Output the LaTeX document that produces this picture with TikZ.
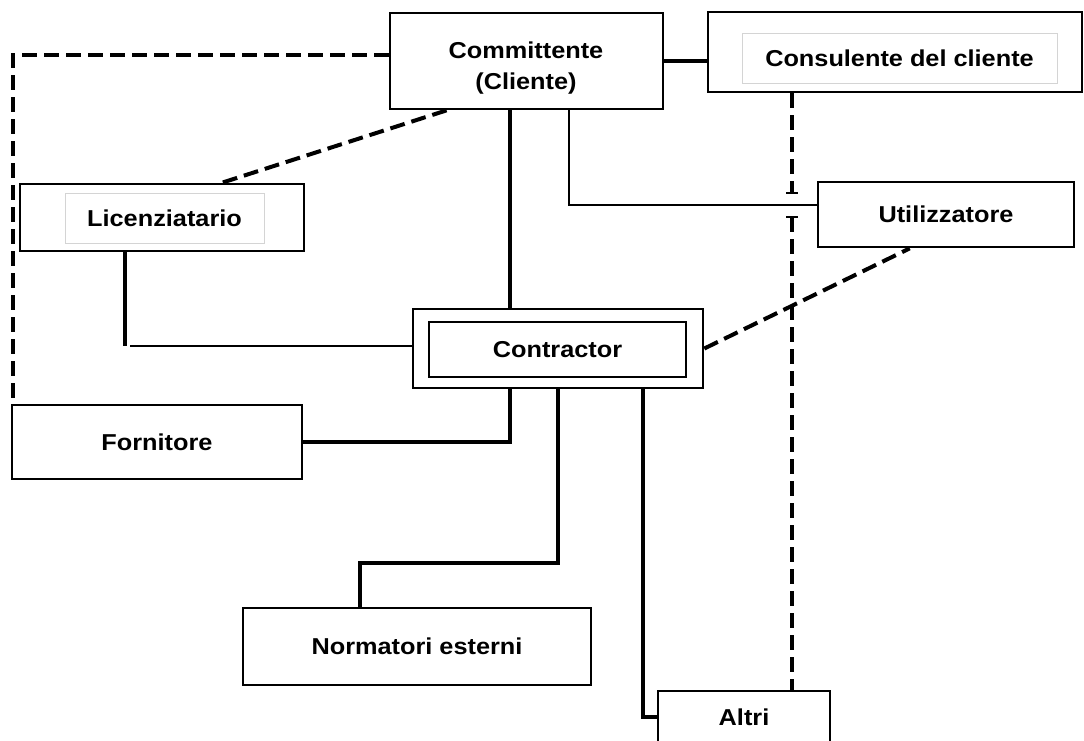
\documentclass[tikz,border=0pt]{standalone}
\usepackage{fontspec}
\setmainfont{Liberation Sans}[FakeStretch=1.1]
\usetikzlibrary{calc}
\begin{document}
\begin{tikzpicture}[x=1pt,y=-1pt,
  lbl/.style={font=\fontsize{23}{31}\selectfont\bfseries,align=center,inner sep=0pt},
  box/.style={draw,line width=2.7pt,rectangle,inner sep=0pt,lbl},
  inbox/.style={draw=black!17,line width=1pt,rectangle,inner sep=0pt,lbl},
  conn/.style={line width=3.5pt},
  thinconn/.style={line width=2.2pt},
  dsh/.style={line width=4pt,dash pattern=on 15pt off 7pt}]
\useasboundingbox (0,0) rectangle (1084,740);

% boxes
\node[box,minimum width=273pt,minimum height=96pt] (comm) at (526.5,61) {};
\node[lbl] (commt) at (526,68) {Committente\\(Cliente)};
\node[box,minimum width=374pt,minimum height=80pt] (cons) at (895,52) {};
\node[inbox,minimum width=315pt,minimum height=50pt] (consin) at (899.5,58) {Consulente del cliente};
\node[box,minimum width=284pt,minimum height=67pt] (lic) at (162,217.5) {};
\node[inbox,minimum width=199pt,minimum height=50pt] (licin) at (164.5,218) {Licenziatario};
\node[box,minimum width=256pt,minimum height=65pt] (util) at (946,214.5) {Utilizzatore};
\node[box,minimum width=290pt,minimum height=79pt] (con) at (558,348.5) {};
\node[box,minimum width=257pt,minimum height=55pt] (conin) at (557.5,349.5) {Contractor};
\node[box,minimum width=290pt,minimum height=74pt] (forn) at (157,442) {Fornitore};
\node[box,minimum width=348pt,minimum height=77pt] (norm) at (417,646.5) {Normatori esterni};
\node[box,minimum width=172pt,minimum height=52pt] (altri) at (744,717) {Altri};

% helper coordinates
\coordinate (vx) at (792,0);
\coordinate (gapt) at (792,193);
\coordinate (gapb) at (792,217);
\coordinate (lk) at (125,346);
\coordinate (nk) at (360,563);
\coordinate (dl) at (14,55);

% dashed connectors
\draw[dsh] (comm.west |- dl) -| ([xshift=2pt]forn.north west);
\draw[dsh] ($(comm.south west)!0.21!(comm.south east)$) -- ($(lic.north west)!0.71!(lic.north east)$);
\draw[dsh] (con.east) -- ($(util.south west)!0.36!(util.south east)$);
\draw[dsh] (cons.south -| vx) -- (gapt);
\draw[dsh] (gapb) -- (altri.north -| vx);
\draw[thinconn] ([xshift=-6pt]gapt) -- ([xshift=6pt]gapt);
\draw[line width=2.5pt] ([xshift=-6pt]gapb) -- ([xshift=6pt]gapb);

% solid connectors
\draw[conn] (comm.east) -- (comm.east -| cons.west);
\draw[conn] ([xshift=-16.5pt]comm.south) -- ([xshift=-16.5pt]comm.south |- con.north);
\draw[thinconn] ([xshift=42.5pt]comm.south) |- ([yshift=9.5pt]util.west);
\draw[conn] (lic.south -| lk) -- (lk);
\draw[thinconn] ([xshift=5pt]lk) -- (con.west |- lk);
\draw[conn] (forn.east) -| ([xshift=-48pt]con.south);
\draw[conn] (con.south) |- (nk) -- (norm.north -| nk);
\draw[conn] ([xshift=85pt]con.south) |- (altri.west);
\end{tikzpicture}
\end{document}
